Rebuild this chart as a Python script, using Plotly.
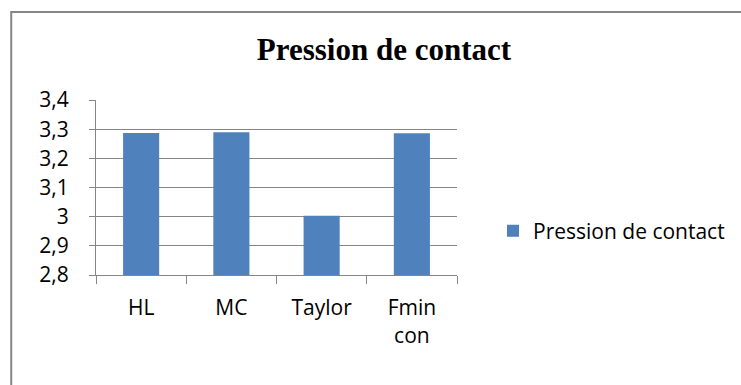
import plotly.graph_objects as go

# Contact pressure computed by each method
methods = ["HL", "MC", "Taylor", "Fmin<br>con"]
pression = [3.287, 3.289, 3.003, 3.286]

y_ticks = [2.8, 2.9, 3.0, 3.1, 3.2, 3.3, 3.4]
y_tick_labels = ["2,8", "2,9", "3", "3,1", "3,2", "3,3", "3,4"]

W, H = 741, 385
L, R, T, B = 96, 283, 100, 110
plot_w = W - L - R
plot_h = H - T - B

grey = "#868686"
label_font = dict(family="Open Sans", size=21, color="#000000")

fig = go.Figure()
fig.add_trace(go.Bar(
    x=methods,
    y=pression,
    name="Pression de contact",
    marker=dict(color="#4f81bd", line=dict(width=0)),
))

# Outer chart frame
fig.add_shape(
    type="rect", xref="paper", yref="paper",
    x0=(11 - L) / plot_w, x1=2.0,
    y0=-1.0, y1=(H - B - 12) / plot_h,
    line=dict(color=grey, width=2), fillcolor="rgba(0,0,0,0)",
)

fig.update_layout(
    width=W, height=H,
    margin=dict(l=L, r=R, t=T, b=B, pad=0),
    paper_bgcolor="white", plot_bgcolor="white",
    bargap=0.6,
    title=dict(
        text="<b>Pression de contact</b>",
        font=dict(family="Liberation Serif", size=31, color="#000000"),
        x=384 / W, xanchor="center", xref="container",
        y=1 - 49 / H, yanchor="middle",
    ),
    showlegend=True,
    legend=dict(
        x=(493 - L) / plot_w, xanchor="left",
        y=(H - B - 231) / plot_h, yanchor="middle",
        font=label_font, bgcolor="rgba(0,0,0,0)",
    ),
    xaxis=dict(
        type="category",
        tickson="boundaries",
        ticks="outside", ticklen=8, tickcolor=grey, tickwidth=1,
        showline=True, linecolor=grey, linewidth=1,
        showgrid=False,
        tickfont=label_font,
        ticklabelstandoff=14,
    ),
    yaxis=dict(
        range=[2.8, 3.4],
        tickmode="array", tickvals=y_ticks, ticktext=y_tick_labels,
        ticks="outside", ticklen=6, tickcolor=grey, tickwidth=1,
        showline=True, linecolor=grey, linewidth=1,
        showgrid=True, gridcolor=grey, gridwidth=1,
        zeroline=False,
        tickfont=label_font,
        ticklabelstandoff=16,
    ),
)

fig.write_html("out.html")
